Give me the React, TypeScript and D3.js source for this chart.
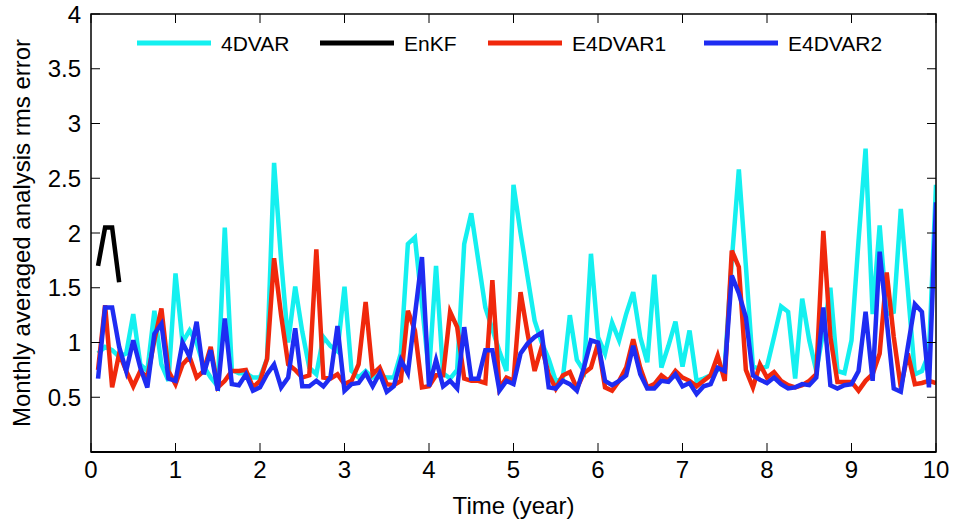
import React from "react";
import * as d3 from "d3";

const xTicks = [0, 1, 2, 3, 4, 5, 6, 7, 8, 9, 10];
const yTicks = [0.5, 1, 1.5, 2, 2.5, 3, 3.5, 4];
const yTickLabels = ["0.5", "1", "1.5", "2", "2.5", "3", "3.5", "4"];

const seriesNames = ["4DVAR", "EnKF", "E4DVAR1", "E4DVAR2"];
const seriesColors = ["#14f0f0", "#000000", "#f0280c", "#1e2cf2"];

// monthly values, month 1..120
const dvar4 = [
  0.9, 0.96, 0.93, 0.87, 0.9, 1.26, 0.8, 0.74, 1.29, 0.8, 0.65, 1.63,
  1.0, 1.11, 1.0, 0.78, 0.68, 0.6, 2.05, 0.75, 0.72, 0.72, 0.68, 0.68,
  0.85, 2.64, 1.75, 1.0, 1.51, 1.1, 0.77, 0.71, 1.05, 0.97, 0.92, 1.51,
  0.74, 0.68, 0.74, 0.68, 0.7, 0.68, 0.68, 0.9, 1.9, 1.96, 1.35, 0.72,
  1.7, 0.72, 0.67, 0.75, 1.9, 2.18, 1.75, 1.32, 1.12, 0.92, 0.74, 2.44,
  2.0, 1.6, 1.2, 1.0, 0.85, 0.65, 0.67, 1.25, 0.84, 0.74, 1.81, 1.05,
  0.9, 1.18, 1.02, 1.26, 1.46, 1.05, 0.82, 1.62, 0.77, 0.97, 1.19, 0.78,
  1.11, 0.65, 0.67, 0.7, 0.75, 0.78, 1.75, 2.58, 1.7, 0.78, 0.76, 0.78,
  1.05, 1.33, 1.28, 0.67, 1.4, 1.02, 0.74, 1.1, 1.5, 0.74, 0.72, 1.02,
  1.93, 2.77, 1.26, 2.07, 1.26, 1.28, 2.22, 1.48, 0.71, 0.74, 0.9, 2.44,
];
const enkf = [1.7, 2.05, 2.05, 1.55];
const e4dvar1 = [
  0.75, 1.34, 0.59, 0.9, 0.74, 0.6, 0.74, 0.68, 1.02, 1.31, 0.74, 0.62,
  0.8, 0.87, 0.68, 0.74, 0.96, 0.59, 0.65, 0.74, 0.74, 0.75, 0.59, 0.65,
  0.85, 1.77, 1.25, 0.8, 0.75, 0.68, 0.7, 1.85, 0.68, 0.67, 0.71, 0.62,
  0.65, 0.8, 1.37, 0.71, 0.77, 0.62, 0.61, 0.65, 1.29, 1.11, 0.59, 0.6,
  0.7, 0.7, 1.28, 1.14, 0.67, 0.65, 0.65, 0.63, 1.57, 0.58, 0.68, 0.65,
  1.46, 1.08, 0.74, 0.96, 0.71, 0.58, 0.7, 0.73, 0.58, 0.72, 0.77, 0.99,
  0.59, 0.56, 0.65, 0.77, 1.03, 0.77, 0.59, 0.62, 0.7, 0.65, 0.74, 0.68,
  0.65, 0.6, 0.65, 0.7, 0.88, 0.65, 1.84, 1.69, 0.75, 0.59, 0.8, 0.68,
  0.73, 0.65, 0.61, 0.59, 0.61, 0.65, 0.71, 2.02, 1.05, 0.64, 0.64, 0.64,
  0.56, 0.65, 0.71, 0.9, 1.64, 1.05, 0.59, 0.9, 0.62, 0.63, 0.65, 0.63,
];
const e4dvar2 = [
  0.67, 1.32, 1.32, 0.96, 0.74, 1.02, 0.77, 0.59, 1.08, 1.17, 0.67, 0.65,
  1.0, 0.87, 1.19, 0.71, 0.93, 0.56, 1.22, 0.62, 0.61, 0.71, 0.56, 0.59,
  0.71, 0.8, 0.59, 0.68, 1.13, 0.6, 0.6, 0.65, 0.6, 0.68, 1.15, 0.56,
  0.62, 0.63, 0.72, 0.6, 0.72, 0.55, 0.6, 0.84, 0.72, 1.25, 1.78, 0.6,
  0.84, 0.6, 0.65, 0.58, 1.14, 0.67, 0.67, 0.93, 0.93, 0.56, 0.65, 0.62,
  0.9, 0.99, 1.05, 1.09, 0.59, 0.58, 0.65, 0.62, 0.56, 0.77, 1.02, 1.0,
  0.65, 0.61, 0.65, 0.7, 0.97, 0.71, 0.58, 0.58, 0.65, 0.64, 0.71, 0.6,
  0.63, 0.53, 0.6, 0.62, 0.77, 0.74, 1.61, 1.45, 1.23, 0.7, 0.66, 0.63,
  0.68, 0.62, 0.58, 0.59, 0.62, 0.61, 0.68, 1.32, 0.61, 0.58, 0.61, 0.62,
  0.74, 1.28, 0.65, 1.83, 1.2, 0.58, 0.55, 0.96, 1.35, 1.28, 0.59, 2.28,
];

const W = 954;
const H = 527;
const L = 91, R = 936, T = 14, B = 452;
const FONT = "'Liberation Sans', Arial, Helvetica, sans-serif";

export default function App() {
  const x = d3.scaleLinear().domain([0, 10]).range([L, R]);
  const y = d3.scaleLinear().domain([0, 4]).range([B, T]);
  const line = d3
    .line<number>()
    .x((_, i) => x((i + 1) / 12))
    .y((d) => y(d));
  const data = [dvar4, enkf, e4dvar1, e4dvar2];
  const legendX = [137, 320, 488, 704];
  const legendLen = 74;
  const legendY = 43;

  return (
    <svg
      width={W}
      height={H}
      style={{ position: "absolute", left: 0, top: 0, background: "#fff" }}
      fontFamily={FONT}
    >
      <rect x={0} y={0} width={W} height={H} fill="#fff" />
      <defs>
        <clipPath id="plot">
          <rect x={L} y={T} width={R - L} height={B - T} />
        </clipPath>
      </defs>
      {/* series */}
      <g clipPath="url(#plot)">
        {data.map((d, k) => (
          <path
            key={k}
            d={line(d) || ""}
            fill="none"
            stroke={seriesColors[k]}
            strokeWidth={4.5}
            strokeLinejoin="miter"
            strokeMiterlimit={4}
          />
        ))}
      </g>
      {/* frame */}
      <rect x={L} y={T} width={R - L} height={B - T} fill="none" stroke="#000" strokeWidth={1.5} />
      <line x1={L} x2={R} y1={B} y2={B} stroke="#000" strokeWidth={2.2} />
      {/* x ticks */}
      {xTicks.map((t) => (
        <g key={"x" + t}>
          <line x1={x(t)} x2={x(t)} y1={B} y2={B - 9} stroke="#000" strokeWidth={1} />
          <line x1={x(t)} x2={x(t)} y1={T} y2={T + 9} stroke="#000" strokeWidth={1} />
          <text x={x(t)} y={478} fontSize={24} textAnchor="middle" fill="#000">
            {t}
          </text>
        </g>
      ))}
      {/* y ticks */}
      {yTicks.map((t, i) => (
        <g key={"y" + t}>
          <line x1={L} x2={L + 9} y1={y(t)} y2={y(t)} stroke="#000" strokeWidth={1} />
          <line x1={R} x2={R - 9} y1={y(t)} y2={y(t)} stroke="#000" strokeWidth={1} />
          <text x={81} y={y(t)} dy="0.36em" fontSize={24} textAnchor="end" fill="#000">
            {yTickLabels[i]}
          </text>
        </g>
      ))}
      {/* axis labels */}
      <text x={(L + R) / 2} y={514} fontSize={24} textAnchor="middle" fill="#000">
        Time (year)
      </text>
      <text
        transform={`translate(30,${(T + B) / 2}) rotate(-90)`}
        fontSize={24}
        textAnchor="middle"
        fill="#000"
      >
        Monthly averaged analysis rms error
      </text>
      {/* legend */}
      {seriesNames.map((n, k) => (
        <g key={n}>
          <line
            x1={legendX[k]}
            x2={legendX[k] + legendLen}
            y1={legendY}
            y2={legendY}
            stroke={seriesColors[k]}
            strokeWidth={5}
          />
          <text x={legendX[k] + legendLen + 10} y={legendY + 8} fontSize={21} fill="#000">
            {n}
          </text>
        </g>
      ))}
    </svg>
  );
}
